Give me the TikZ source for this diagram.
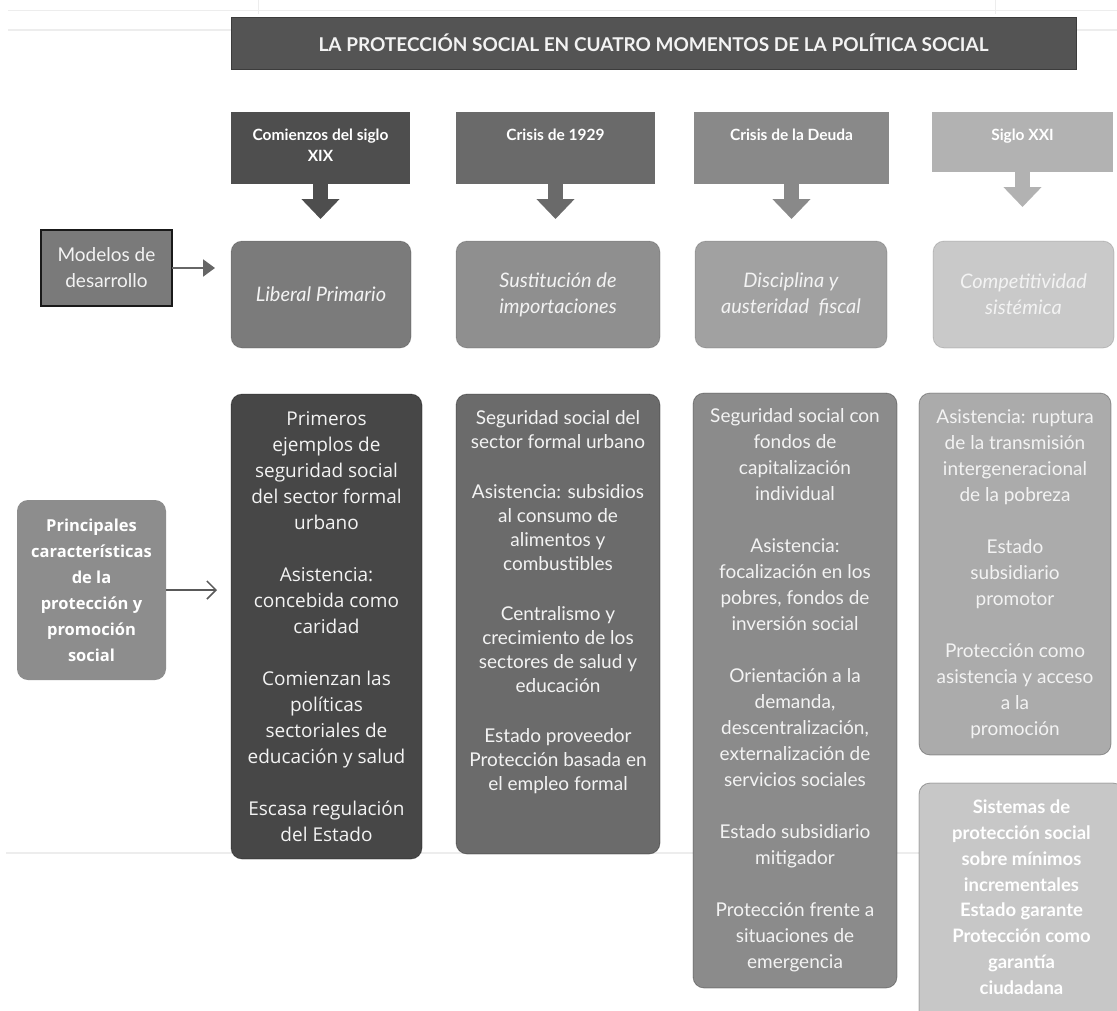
\documentclass[tikz,border=0pt]{standalone}
\usepackage{fontspec}
\setmainfont{Lato}
\newfontfamily\osans{Open Sans}
\usetikzlibrary{arrows.meta,calc}
\definecolor{cTitle}{HTML}{545454}
\definecolor{cTitleD}{HTML}{3C3C3C}
\definecolor{cH1}{HTML}{4E4E4E}
\definecolor{cH2}{HTML}{6A6A6A}
\definecolor{cH3}{HTML}{898989}
\definecolor{cH4}{HTML}{B2B2B2}
\definecolor{cM1}{HTML}{7B7B7B}
\definecolor{cM2}{HTML}{8F8F8F}
\definecolor{cM3}{HTML}{A1A1A1}
\definecolor{cM4}{HTML}{C9C9C9}
\definecolor{cA}{HTML}{474747}
\definecolor{cB}{HTML}{6B6B6B}
\definecolor{cC}{HTML}{8B8B8B}
\definecolor{cD}{HTML}{ABABAB}
\definecolor{cE}{HTML}{C7C7C7}
\definecolor{cPr}{HTML}{8D8D8D}
\definecolor{cMod}{HTML}{7A7A7A}
\definecolor{cFaint}{HTML}{EDEDED}
\definecolor{cArrow}{HTML}{666666}
\definecolor{cThin}{HTML}{595959}
\definecolor{cTxt}{HTML}{F3F3F3}
\tikzset{
  box/.style={inner sep=0pt, outer sep=0pt, anchor=north west, align=center},
  mdl/.style={box, rounded corners=11pt, draw=black, draw opacity=0.15, line width=0.8pt, text=cTxt, font=\fontsize{20pt}{26pt}\selectfont\itshape},
  col/.style={box, rounded corners=11pt, draw=black, draw opacity=0.3, line width=0.8pt, text=cTxt},
  hdrtxt/.style={inner sep=0pt, anchor=north, align=center, text=white, font=\fontsize{15.5pt}{21pt}\selectfont\bfseries},
  bodytxt/.style={inner sep=0pt, align=center, text=cTxt},
  blockarrow/.style={line width=15pt, -{Triangle[length=20pt,width=37pt]}},
  faint/.style={draw=cFaint, line width=1.5pt},
}
\begin{document}
\begin{tikzpicture}[x=1pt,y=-1pt]
\useasboundingbox (0,0) rectangle (1117,1010);
\fill[white] (0,0) rectangle (1117,1010);
% faint screenshot lines
\draw[faint, line width=1pt] (8,10) -- (1117,10);
\draw[faint] (8,30) -- (231,30);
\draw[faint] (1076,30) -- (1117,30);
\draw[faint, line width=1pt] (258,0) -- (258,14);
\draw[faint, line width=1pt] (995,0) -- (995,14);
\draw[faint, line width=2pt] (6,853) -- (1117,853);

% title
\node[box, fill=cTitle, draw=cTitleD, line width=0.8pt, minimum width=845pt, minimum height=52pt,
      text=cTxt, font=\fontsize{19pt}{24pt}\selectfont\bfseries] (title) at (231,17)
      {LA PROTECCIÓN SOCIAL EN CUATRO MOMENTOS DE LA POLÍTICA SOCIAL};

% headers
\node[box, fill=cH1, minimum width=179pt, minimum height=72pt] (h1) at (231,112) {};
\node[box, fill=cH2, minimum width=199pt, minimum height=72pt] (h2) at (456,112) {};
\node[box, fill=cH3, minimum width=195pt, minimum height=72pt] (h3) at (694,112) {};
\node[box, fill=cH4, minimum width=181pt, minimum height=60pt] (h4) at (932,112) {};
\node[hdrtxt] (h1t) at ($(h1.north)+(0,14)$) {\strut Comienzos del siglo\\XIX};
\node[hdrtxt] (h2t) at ($(h2.north)+(0,14)$) {\strut Crisis de 1929};
\node[hdrtxt] (h3t) at ($(h3.north)+(0,14)$) {\strut Crisis de la Deuda};
\node[hdrtxt] (h4t) at ($(h4.north)+(0,14)$) {\strut Siglo XXI};

% models
\node[mdl, fill=cM1, minimum width=180pt, minimum height=107pt] (m1) at (231,241) {Liberal Primario};
\node[mdl, fill=cM2, minimum width=204pt, minimum height=107pt] (m2) at (456,241) {Sustitución de\\importaciones};
\node[mdl, fill=cM3, minimum width=192pt, minimum height=107pt] (m3) at (695,241) {Disciplina y\\austeridad~ fiscal};
\node[mdl, fill=cM4, minimum width=181pt, minimum height=107pt] (m4) at (933,241) {Competitividad\\sistémica};

% block arrows
\draw[blockarrow, cH1, shorten >=22pt] (h1.south) -- (h1.south |- m1.north);
\draw[blockarrow, cH2, shorten >=22pt] (h2.south) -- (h2.south |- m2.north);
\draw[blockarrow, cH3, shorten >=22pt] (h3.south) -- (h3.south |- m3.north);
\draw[blockarrow, cH4, shorten >=34pt] (h4.south) -- (h4.south |- m4.north);

% Modelos de desarrollo
\node[box, fill=cMod, draw=black!90, line width=1.8pt, minimum width=131pt, minimum height=76pt,
      text=cTxt, font=\fontsize{19pt}{26pt}\selectfont] (mod) at (41,230) {Modelos de\\desarrollo};
\draw[cArrow, line width=2.2pt, -{Triangle[length=12pt,width=17pt]}, shorten >=16pt]
      (mod.east) -- (mod.east -| m1.west);

% Principales
\node[box, fill=cPr, rounded corners=11pt, minimum width=149pt, minimum height=180pt,
      text=white, font=\osans\fontsize{16.5pt}{26pt}\selectfont\bfseries] (pr) at (17,500)
      {Principales\\características\\de la\\protección y\\promoción\\social};

% columns
\node[col, fill=cA, minimum width=191pt, minimum height=465pt,
      font=\osans\fontsize{19pt}{26pt}\selectfont] (A) at (231,394)
  {Primeros\\ejemplos de\\seguridad social\\del sector formal\\urbano\\[26pt]
   Asistencia:\\concebida como\\caridad\\[26pt]
   Comienzan las\\políticas\\sectoriales de\\educación y salud\\[26pt]
   Escasa regulación\\del Estado};
\node[col, fill=cB, minimum width=204pt, minimum height=460pt] (B) at (456,394) {};
\node[bodytxt, anchor=north, font=\fontsize{19pt}{24pt}\selectfont] (Bt) at ($(B.north)+(0,13)$)
  {\strut Seguridad social del\\sector formal urbano\\[26pt]
   Asistencia: subsidios\\al consumo de\\alimentos y\\combustibles\\[26pt]
   Centralismo y\\crecimiento de los\\sectores de salud y\\educación\\[26pt]
   Estado proveedor\\Protección basada en\\el empleo formal};
\node[col, fill=cC, minimum width=204pt, minimum height=595pt,
      font=\fontsize{19pt}{26pt}\selectfont] (C) at (693,393)
  {Seguridad social con\\fondos de\\capitalización\\individual\\[26pt]
   Asistencia:\\focalización en los\\pobres, fondos de\\inversión social\\[26pt]
   Orientación a la\\demanda,\\descentralización,\\externalización de\\servicios sociales\\[26pt]
   Estado subsidiario\\mitigador\\[26pt]
   Protección frente a\\situaciones de\\emergencia};
\node[col, fill=cD, minimum width=192pt, minimum height=362pt,
      font=\fontsize{19pt}{26pt}\selectfont] (D) at (919,393)
  {Asistencia: ruptura\\de la transmisión\\intergeneracional\\de la pobreza\\[26pt]
   Estado\\subsidiario\\promotor\\[26pt]
   Protección como\\asistencia y acceso\\a la\\promoción};
\node[col, fill=cE, minimum width=205pt, minimum height=260pt] (E) at (919,783) {};
\node[bodytxt, anchor=north, text=white, font=\fontsize{18.5pt}{25.8pt}\selectfont\bfseries] (Et)
  at ($(E.north)+(0,12.5)$)
  {\strut Sistemas de\\protección social\\sobre mínimos\\incrementales\\Estado garante\\Protección como\\garantía\\ciudadana};

% arrow from Principales
\draw[cThin, line width=1.5pt, -{Straight Barb[length=9pt,width=18pt]}, shorten >=14pt]
      (pr.east) -- (pr.east -| A.west);
\end{tikzpicture}
\end{document}
